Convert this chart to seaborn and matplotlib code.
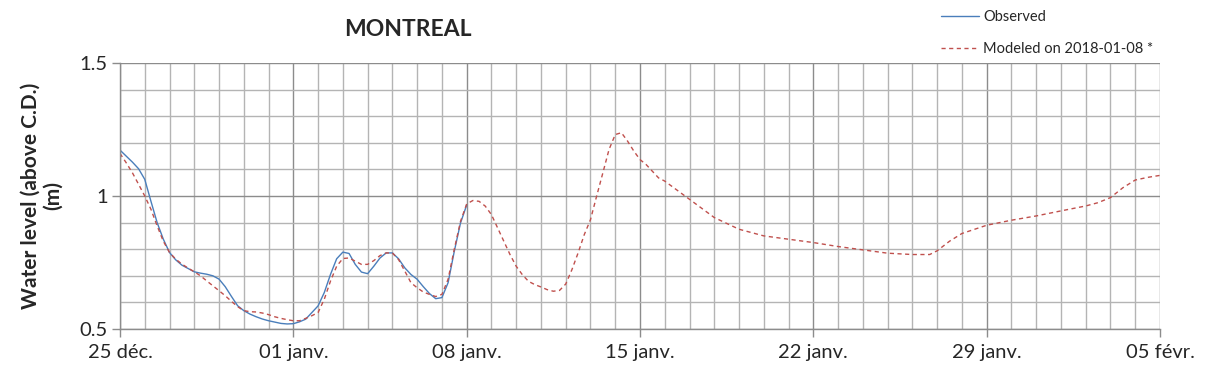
import pandas as pd
import matplotlib
matplotlib.use("Agg")
import matplotlib.pyplot as plt
import seaborn as sns
from matplotlib.ticker import MultipleLocator


# 1. Data (days after 2017-12-25, water level in m)
obs_days = [i * 0.25 for i in range(57)]  # 25 déc. -> 08 janv., every 6 h
obs_level = [1.1725, 1.15, 1.1275, 1.1025, 1.0625, 0.98, 0.9, 0.8375, 0.7875,
             0.76, 0.74, 0.7275, 0.715, 0.71, 0.706, 0.70, 0.6875, 0.659,
             0.6225, 0.5875, 0.569, 0.556, 0.546, 0.5375, 0.531, 0.526, 0.521,
             0.519, 0.52,
             0.527, 0.537, 0.562, 0.587, 0.637, 0.705, 0.764, 0.789, 0.784,
             0.743, 0.714, 0.708, 0.736, 0.767, 0.786, 0.786, 0.764, 0.73,
             0.705, 0.687, 0.659, 0.633, 0.614, 0.618, 0.674, 0.792, 0.898,
             0.966]

mod_days = [i * 0.25 for i in range(88)] + [
    22, 23, 24, 25, 26, 27, 28, 29, 30, 31, 32, 32.7, 33, 33.5, 34, 35, 36,
    37, 38, 39, 39.5, 40, 40.5, 41, 41.5, 42]
mod_level = [1.16, 1.125, 1.0875, 1.044, 1.0, 0.95, 0.8875, 0.83, 0.7875,
             0.7625, 0.744, 0.729, 0.715, 0.7, 0.681, 0.6625, 0.644, 0.625,
             0.604, 0.584, 0.569, 0.565, 0.564, 0.56, 0.554, 0.546, 0.54,
             0.535, 0.531,
             0.531, 0.54, 0.55, 0.562, 0.612, 0.68, 0.736, 0.765, 0.767, 0.755,
             0.743, 0.743, 0.757, 0.776, 0.786, 0.786, 0.761, 0.718, 0.674,
             0.655, 0.639, 0.63, 0.622, 0.63, 0.687, 0.8, 0.904, 0.97,
             0.983, 0.98, 0.962, 0.93, 0.88, 0.83, 0.78, 0.736, 0.704, 0.679,
             0.667, 0.658, 0.648, 0.642, 0.645, 0.669, 0.723, 0.786, 0.855,
             0.911, 1.0, 1.087, 1.175, 1.231, 1.238, 1.206, 1.169, 1.137,
             1.118, 1.093, 1.068,
             1.056, 0.9875, 0.919, 0.875, 0.85, 0.8375, 0.825, 0.81, 0.7975,
             0.785, 0.78, 0.78, 0.794, 0.83, 0.859, 0.89, 0.909, 0.925, 0.944,
             0.9625, 0.975, 0.994, 1.031, 1.06, 1.07, 1.0775]

tick_days = [0, 7, 14, 21, 28, 35, 42]
tick_labels = ["25 déc.", "01 janv.", "08 janv.", "15 janv.", "22 janv.",
               "29 janv.", "05 févr."]

obs = pd.DataFrame({"day": obs_days, "level": obs_level})
mod = pd.DataFrame({"day": mod_days, "level": mod_level})


# 2. Plot
sns.set_style("white")
plt.rcParams["font.family"] = ["Lato", "DejaVu Sans"]

fig = plt.figure(figsize=(12.09, 3.78), dpi=100)
ax = fig.add_axes([120 / 1209, 1 - 329 / 378, 1040 / 1209, 266 / 378])

sns.lineplot(data=obs, x="day", y="level", ax=ax, color="#4a7ebb",
             linewidth=1.0, label="Observed")
sns.lineplot(data=mod, x="day", y="level", ax=ax, color="#c0504d",
             linewidth=1.0, linestyle=(0, (3, 2.5)),
             label="Modeled on 2018-01-08 *")

ax.set_xlim(0, 42)
ax.set_ylim(0.5, 1.5)
ax.set_xticks(tick_days)
ax.set_xticklabels(tick_labels)
ax.xaxis.set_minor_locator(MultipleLocator(1))
ax.set_yticks([0.5, 1.0, 1.5])
ax.set_yticklabels(["0.5", "1", "1.5"])
ax.yaxis.set_minor_locator(MultipleLocator(0.1))

ax.grid(which="minor", color="#b4b4b4", linewidth=1.0)
ax.grid(which="major", color="#8c8c8c", linewidth=1.0)
ax.set_axisbelow(True)
for side in ["top", "right"]:
    ax.spines[side].set_visible(False)
for side in ["left", "bottom"]:
    ax.spines[side].set_color("#8c8c8c")
    ax.spines[side].set_linewidth(1.0)

ax.tick_params(axis="both", which="major", length=6, width=1.0,
               color="#8c8c8c", labelsize=14.5, direction="out")
ax.tick_params(axis="both", which="minor", length=0)
ax.tick_params(axis="x", pad=5)
ax.tick_params(axis="y", pad=3)
ax.xaxis.set_ticks_position("bottom")
ax.yaxis.set_ticks_position("left")

ax.set_xlabel("")
ax.set_ylabel("Water level (above C.D.)\n(m)", fontsize=15,
              fontweight="bold", labelpad=12, linespacing=1.1)

fig.text(408 / 1209, 1 - 30 / 378, "MONTREAL", fontsize=16.5,
         fontweight="bold", ha="center", va="center")

ax.legend_.remove()
handles, labels = ax.get_legend_handles_labels()
fig.legend(handles, labels, loc="upper left",
           bbox_to_anchor=(928 / 1209, 1 + 3 / 378), frameon=False,
           fontsize=10.5, handlelength=2.6, handletextpad=0.3,
           labelspacing=1.2)

fig.savefig("out.png", dpi=100)
